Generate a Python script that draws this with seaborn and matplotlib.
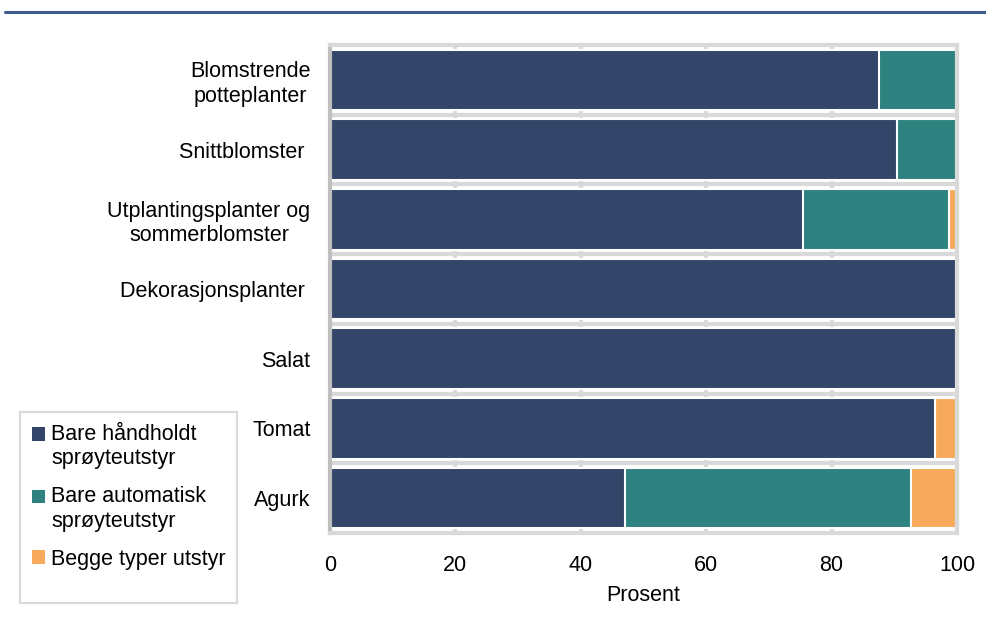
import pandas as pd
import seaborn as sns
import matplotlib.pyplot as plt
from matplotlib.patches import Patch, Rectangle
from matplotlib.lines import Line2D
from matplotlib.legend_handler import HandlerPatch

# data (percent)
categories = ["Blomstrende\npotteplanter", "Snittblomster ", "Utplantingsplanter og\nsommerblomster",
              "Dekorasjonsplanter ", "Salat", "Tomat", "Agurk"]
handholdt = [87.5, 90.5, 75.5, 100.0, 100.0, 96.5, 47.0]
automatisk = [12.5, 9.5, 23.3, 0.0, 0.0, 0.0, 45.7]
begge = [0.0, 0.0, 1.2, 0.0, 0.0, 3.5, 7.3]

series_names = ["Bare håndholdt\nsprøyteutstyr", "Bare automatisk\nsprøyteutstyr", "Begge typer utstyr"]
colors = ["#334669", "#2d817e", "#f8aa5c"]

sns.set_theme(style="white")
plt.rcParams["font.family"] = ["Liberation Sans", "DejaVu Sans"]
plt.rcParams["text.color"] = "black"
FS = 15.5

df = pd.DataFrame({"kategori": categories, "hand": handholdt, "auto": automatisk, "begge": begge})
df["cum_auto"] = df["hand"] + df["auto"]
df["cum_begge"] = df["cum_auto"] + df["begge"]

fig = plt.figure(figsize=(9.87, 6.17), dpi=100)
ax = fig.add_axes([330 / 987, 1 - 533 / 617, 627 / 987, 488 / 617])

# stacked bars: draw cumulative totals back to front
for col, c in zip(["cum_begge", "cum_auto", "hand"], colors[::-1]):
    sns.barplot(data=df, x=col, y="kategori", orient="h", color=c, saturation=1, width=0.87,
                edgecolor="white", linewidth=1.5, ax=ax, zorder=2)

ax.set_xlim(0, 100)
ax.set_ylim(6.5, -0.5)
ax.set_xticks([0, 20, 40, 60, 80, 100])
ax.set_yticks(range(len(categories)))
ax.set_yticklabels(categories, multialignment="center")

ax.set_axisbelow(True)
ax.grid(True, axis="x", color="#d9d9d9", linewidth=3, zorder=0)
ax.grid(False, axis="y")
# separator lines between categories
for i in range(len(categories) - 1):
    ax.axhline(i + 0.5, color="#d9d9d9", linewidth=3, zorder=0.5)

for side in ["top", "bottom", "right"]:
    ax.spines[side].set_color("#d9d9d9")
    ax.spines[side].set_linewidth(3)
ax.spines["left"].set_color("#bfbfbf")
ax.spines["left"].set_linewidth(3)

ax.tick_params(axis="both", which="both", length=0, labelsize=FS, colors="black")
ax.tick_params(axis="y", pad=14)
ax.tick_params(axis="x", pad=16)
ax.set_xlabel("Prosent", fontsize=FS, labelpad=6, color="black")
ax.set_ylabel("")

# legend box, left bottom
fig.add_artist(Rectangle((20 / 987, 1 - 603 / 617), 217 / 987, 191 / 617, transform=fig.transFigure,
                         facecolor="white", edgecolor="#d9d9d9", linewidth=1.5))


def top_square(legend, orig_handle, xdescent, ydescent, width, height, fontsize):
    # keep the square beside the first line of a two-line label
    return Rectangle((-xdescent, -ydescent + 0.6 * fontsize), width, height)


handles = [Patch(facecolor=c, edgecolor="none") for c in colors]
hmap = {handles[0]: HandlerPatch(patch_func=top_square), handles[1]: HandlerPatch(patch_func=top_square)}
fig.legend(handles, series_names, loc="upper left", bbox_to_anchor=(32 / 987, 1 - 424 / 617),
           frameon=False, fontsize=FS, borderpad=0, handlelength=0.6, handleheight=0.6,
           handletextpad=0.3, labelspacing=0.8, borderaxespad=0, handler_map=hmap,
           labelcolor="black")

# blue line at the top
fig.add_artist(Line2D([5 / 987, 1], [1 - 11.5 / 617, 1 - 11.5 / 617], transform=fig.transFigure,
                      color="#3e5b8c", linewidth=2.2))

fig.savefig("out.png", dpi=100)
